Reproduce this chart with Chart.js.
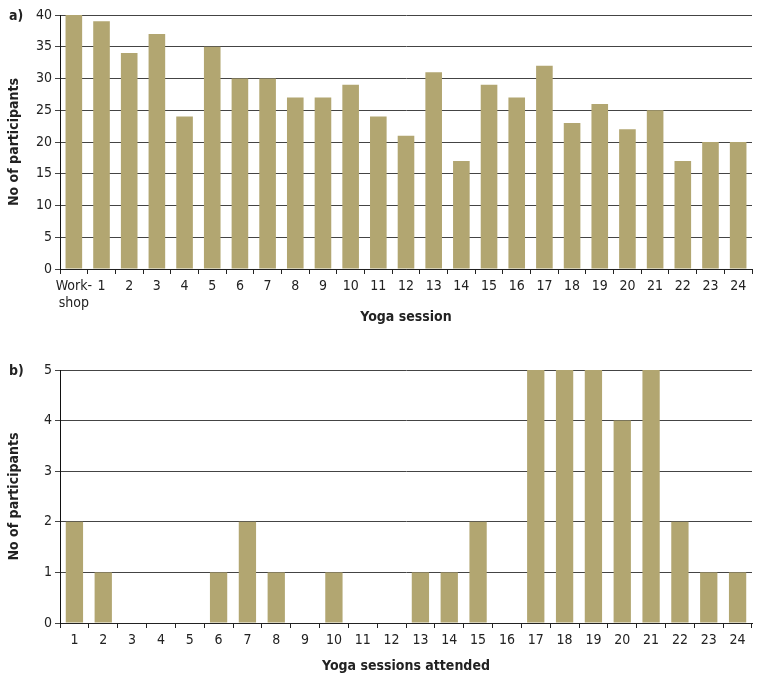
<!DOCTYPE html>
<html><head><meta charset="utf-8">
<script src="https://cdn.jsdelivr.net/npm/chart.js@4/dist/chart.umd.min.js"></script>
<style>
html,body{margin:0;padding:0;background:#fff;}
#wrap{position:relative;width:757px;height:681px;}
canvas{position:absolute;left:0;}
.lab{position:absolute;font-family:'Liberation Sans Narrow','DejaVu Sans Condensed',sans-serif;font-weight:bold;font-size:14px;color:#222;}
</style></head>
<body><div id="wrap">
<canvas id="ca" width="757" height="330" style="top:0;width:757px;height:330px"></canvas>
<canvas id="cb" width="757" height="341" style="top:340px;width:757px;height:341px"></canvas>
<div class="lab" style="left:9px;top:7px">a)</div>
<div class="lab" style="left:9px;top:362px">b)</div>
</div>
<script>
const sessionLabels = [["Work-","shop"],"1","2","3","4","5","6","7","8","9","10","11","12","13","14","15","16","17","18","19","20","21","22","23","24"];
const sessionCounts = [40,39,34,37,24,35,30,30,27,27,29,24,21,31,17,29,27,32,23,26,22,25,17,20,20];
const attendedLabels = ["1","2","3","4","5","6","7","8","9","10","11","12","13","14","15","16","17","18","19","20","21","22","23","24"];
const attendedCounts = [2,1,0,0,0,1,2,1,0,1,0,0,1,1,2,0,5,5,5,4,5,2,1,1];

const FONT = "'Liberation Sans Narrow','DejaVu Sans Condensed',sans-serif";
const BAR = '#b2a671';

function makeChart(id, labels, data, max, step, xTitle, topPad, xHeight, titleBottom) {
  return new Chart(document.getElementById(id), {
    type: 'bar',
    data: { labels: labels, datasets: [{ data: data, backgroundColor: BAR, borderWidth: 0, barPercentage: 0.6, categoryPercentage: 1.0 }] },
    options: {
      responsive: false, animation: false,
      layout: { padding: { top: topPad, right: 5, left: 0, bottom: 0 } },
      plugins: { legend: { display: false }, tooltip: { enabled: false } },
      scales: {
        x: {
          grid: { display: true, drawOnChartArea: false, drawTicks: true, tickLength: 5, color: '#222', offset: true },
          border: { display: true, color: '#222', width: 1 },
          ticks: { color: '#222', font: { family: FONT, size: 14 }, padding: 4, maxRotation: 0, autoSkip: false },
          title: { display: true, text: xTitle, color: '#222', font: { family: FONT, size: 14, weight: 'bold' }, padding: { top: 0, bottom: titleBottom } },
          afterFit: s => { s.height = xHeight; }
        },
        y: {
          min: 0, max: max,
          grid: { color: '#444', lineWidth: 1, drawTicks: true, tickLength: 5 },
          border: { display: true, color: '#111', width: 1 },
          ticks: { stepSize: step, color: '#222', font: { family: FONT, size: 14 }, padding: 3 },
          title: { display: true, text: 'No of participants', color: '#222', font: { family: FONT, size: 14, weight: 'bold' }, padding: { top: 6, bottom: 0 } },
          afterFit: s => { s.width = 60; }
        }
      }
    }
  });
}
makeChart('ca', sessionLabels, sessionCounts, 40, 5, 'Yoga session', 15, 61, 4);
makeChart('cb', attendedLabels, attendedCounts, 5, 1, 'Yoga sessions attended', 30, 58, 6);
</script>
</body></html>
